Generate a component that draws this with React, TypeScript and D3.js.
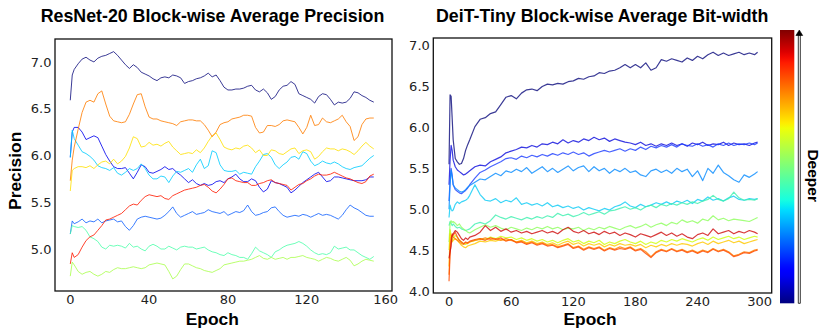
import React from "react";
import * as d3 from "d3";

// ---------------- ResNet-20 (left) ----------------
const LEFT_EPOCHS = [0,1,2,4,6,8,10,12,14,16,18,20,22,24,26,28,30,32,34,36,38,40,42,44,46,48,50,52,54,56,58,60,62,64,66,68,70,72,74,76,78,80,82,84,86,88,90,92,94,96,98,100,102,104,106,108,110,112,114,116,118,120,122,124,126,128,130,132,134,136,138,140,142,144,146,148,150,152,154];

const RESNET_B1 = [6.59,6.86,6.92,6.98,7.03,7.05,7.02,7.00,7.04,7.06,7.07,7.09,7.11,7.07,7.02,6.97,6.93,6.97,6.94,6.89,6.87,6.85,6.82,6.80,6.83,6.84,6.83,6.86,6.85,6.83,6.77,6.79,6.80,6.82,6.83,6.85,6.88,6.84,6.86,6.80,6.73,6.70,6.70,6.71,6.71,6.72,6.74,6.75,6.70,6.68,6.71,6.67,6.60,6.63,6.70,6.74,6.75,6.79,6.76,6.66,6.64,6.62,6.60,6.56,6.63,6.66,6.65,6.60,6.54,6.57,6.56,6.57,6.61,6.68,6.67,6.64,6.62,6.59,6.57];
const RESNET_B2 = [5.98,6.25,6.30,6.30,6.25,6.17,6.19,6.21,6.19,6.10,6.01,5.94,5.88,5.86,5.86,5.87,5.81,5.75,5.82,5.90,5.88,5.82,5.81,5.83,5.85,5.88,5.85,5.86,5.82,5.79,5.75,5.71,5.74,5.70,5.68,5.70,5.68,5.69,5.72,5.73,5.71,5.75,5.77,5.80,5.75,5.72,5.72,5.75,5.73,5.66,5.61,5.64,5.73,5.71,5.70,5.68,5.66,5.60,5.63,5.67,5.71,5.74,5.77,5.80,5.82,5.77,5.72,5.73,5.77,5.77,5.76,5.75,5.74,5.73,5.73,5.73,5.74,5.77,5.77];
const RESNET_B3 = [5.16,5.30,5.27,5.29,5.32,5.28,5.30,5.29,5.32,5.28,5.30,5.31,5.32,5.29,5.30,5.24,5.20,5.25,5.32,5.34,5.35,5.34,5.33,5.32,5.33,5.36,5.40,5.45,5.38,5.34,5.36,5.38,5.40,5.37,5.38,5.39,5.42,5.40,5.39,5.38,5.40,5.36,5.38,5.40,5.39,5.41,5.47,5.40,5.36,5.37,5.39,5.40,5.44,5.45,5.40,5.36,5.34,5.35,5.36,5.35,5.37,5.36,5.34,5.36,5.38,5.36,5.37,5.36,5.34,5.32,5.36,5.42,5.47,5.44,5.42,5.39,5.36,5.35,5.35];
const RESNET_B4 = [5.98,6.27,6.18,6.11,6.04,6.02,5.99,5.95,5.89,5.87,5.86,5.84,5.87,5.81,5.79,5.82,5.86,5.84,5.86,5.91,5.86,5.79,5.75,5.75,5.78,5.77,5.71,5.78,5.83,5.82,5.84,5.86,5.82,5.90,5.96,5.86,5.89,6.05,6.03,5.90,5.84,5.83,5.83,5.84,5.80,5.82,5.81,5.80,5.88,5.94,6.01,6.02,5.98,5.90,5.86,5.90,5.93,5.98,5.99,5.96,6.04,6.02,5.94,5.89,5.91,5.94,5.92,5.91,5.93,5.91,5.88,5.86,5.85,5.87,5.88,5.89,5.93,5.97,6.00];
const RESNET_B5 = [5.16,5.25,5.24,5.23,5.24,5.20,5.13,5.11,5.08,5.02,5.00,5.04,5.03,5.04,5.03,5.01,5.06,5.02,5.03,5.00,4.98,5.03,5.05,5.03,5.00,5.00,5.03,5.01,4.99,5.02,5.03,5.02,5.02,5.00,5.01,5.02,4.99,4.97,4.96,4.94,4.93,4.96,4.94,4.93,4.91,4.91,4.89,4.95,5.02,4.98,4.96,4.94,4.91,4.97,4.99,5.02,5.04,5.05,5.06,5.08,5.06,5.03,4.99,4.96,4.94,4.95,4.94,4.96,5.03,5.00,5.01,5.02,4.99,4.99,4.96,4.93,4.91,4.89,4.92];
const RESNET_B6 = [4.71,4.86,4.83,4.76,4.73,4.75,4.76,4.73,4.71,4.73,4.76,4.75,4.78,4.80,4.79,4.79,4.80,4.81,4.80,4.79,4.80,4.83,4.84,4.85,4.84,4.83,4.76,4.68,4.71,4.78,4.84,4.84,4.82,4.80,4.79,4.77,4.76,4.75,4.77,4.79,4.83,4.84,4.85,4.86,4.87,4.87,4.88,4.89,4.91,4.93,4.90,4.89,4.91,4.89,4.90,4.91,4.89,4.91,4.91,4.92,4.93,4.91,4.90,4.89,4.87,4.89,4.91,4.90,4.88,4.87,4.89,4.91,4.88,4.82,4.84,4.87,4.89,4.88,4.87];
const RESNET_B7 = [5.62,5.84,5.86,5.88,5.88,5.87,5.89,5.86,5.90,5.93,5.94,5.91,5.96,5.91,5.94,5.99,6.08,6.20,6.18,6.09,6.10,6.14,6.11,6.12,6.10,6.13,6.15,6.09,6.05,6.01,6.02,6.03,6.02,6.06,6.03,6.08,6.15,6.21,6.24,6.17,6.09,6.07,6.06,6.08,6.07,6.10,6.11,6.08,6.03,6.06,6.00,6.00,6.06,6.05,6.02,6.01,6.04,6.07,6.08,6.02,6.05,6.06,6.04,5.96,5.99,6.04,6.08,6.07,6.07,6.05,6.07,6.06,6.04,6.01,6.05,6.10,6.14,6.10,6.07];
const RESNET_B8 = [5.73,5.95,6.09,6.28,6.46,6.57,6.59,6.57,6.66,6.69,6.55,6.42,6.37,6.36,6.35,6.36,6.44,6.55,6.65,6.66,6.52,6.41,6.39,6.39,6.37,6.36,6.35,6.34,6.32,6.36,6.37,6.38,6.38,6.37,6.37,6.33,6.27,6.20,6.25,6.33,6.35,6.36,6.39,6.40,6.41,6.43,6.43,6.42,6.30,6.24,6.25,6.32,6.32,6.31,6.33,6.37,6.38,6.37,6.36,6.30,6.23,6.30,6.43,6.32,6.33,6.40,6.36,6.35,6.37,6.39,6.43,6.36,6.31,6.16,6.20,6.33,6.39,6.40,6.40];
const RESNET_B9 = [4.84,4.96,4.91,4.94,5.02,5.09,5.13,5.15,5.20,5.25,5.31,5.32,5.34,5.36,5.38,5.42,5.46,5.48,5.47,5.52,5.56,5.58,5.57,5.56,5.57,5.54,5.53,5.57,5.59,5.61,5.63,5.64,5.65,5.66,5.68,5.69,5.66,5.62,5.60,5.64,5.69,5.75,5.76,5.73,5.72,5.71,5.71,5.68,5.68,5.70,5.71,5.73,5.74,5.71,5.70,5.69,5.68,5.63,5.66,5.69,5.70,5.73,5.75,5.78,5.80,5.79,5.79,5.80,5.82,5.80,5.78,5.76,5.75,5.73,5.71,5.70,5.72,5.78,5.80];

const RESNET_SERIES = [RESNET_B1, RESNET_B2, RESNET_B3, RESNET_B4, RESNET_B5, RESNET_B6, RESNET_B7, RESNET_B8, RESNET_B9];
const RESNET_COLORS = ["#10107f", "#0000ee", "#1060ff", "#00ccff", "#4dffa9", "#a9ff4d", "#ffe000", "#ff7d00", "#ff1a00"];

const LEFT_X_TICKS = [0, 40, 80, 120, 160];
const LEFT_Y_TICKS = [5.0, 5.5, 6.0, 6.5, 7.0];

// ---------------- DeiT-Tiny (right) ----------------
const DEIT_EPOCHS = [0,1,2,3,4,6,8,10,12,14,16,18,20,25,30,35,40,45,50,55,60,65,70,75,80,85,90,95,100,105,110,115,120,125,130,135,140,145,150,155,160,165,170,175,180,185,190,195,200,205,210,215,220,225,230,235,240,245,250,255,260,265,270,275,280,285,290,295,298];

const DEIT_B1 = [5.55,6.40,6.38,6.12,5.85,5.62,5.58,5.55,5.56,5.62,5.72,5.79,5.85,6.01,6.10,6.12,6.17,6.19,6.28,6.37,6.39,6.35,6.42,6.46,6.47,6.45,6.50,6.53,6.52,6.54,6.53,6.56,6.57,6.60,6.59,6.62,6.63,6.67,6.66,6.69,6.70,6.73,6.77,6.73,6.77,6.73,6.79,6.70,6.73,6.83,6.81,6.84,6.82,6.80,6.85,6.82,6.87,6.84,6.89,6.92,6.88,6.91,6.88,6.90,6.92,6.89,6.91,6.89,6.92];
const DEIT_B2 = [5.30,5.60,5.78,5.72,5.60,5.52,5.48,5.46,5.44,5.42,5.43,5.45,5.47,5.52,5.54,5.53,5.58,5.61,5.64,5.69,5.71,5.73,5.76,5.75,5.78,5.76,5.80,5.79,5.82,5.80,5.85,5.81,5.84,5.82,5.86,5.84,5.88,5.85,5.87,5.83,5.86,5.84,5.82,5.81,5.79,5.82,5.78,5.80,5.77,5.80,5.78,5.81,5.78,5.80,5.77,5.81,5.79,5.82,5.78,5.80,5.79,5.82,5.78,5.81,5.79,5.80,5.78,5.81,5.82];
const DEIT_B3 = [5.10,5.35,5.50,5.42,5.30,5.24,5.22,5.20,5.19,5.21,5.23,5.26,5.30,5.38,5.45,5.48,5.52,5.55,5.58,5.62,5.63,5.61,5.65,5.63,5.66,5.64,5.67,5.65,5.68,5.66,5.69,5.67,5.70,5.67,5.69,5.65,5.68,5.70,5.72,5.70,5.72,5.74,5.71,5.74,5.72,5.76,5.73,5.77,5.75,5.78,5.76,5.79,5.76,5.80,5.78,5.77,5.80,5.77,5.79,5.76,5.80,5.78,5.81,5.78,5.80,5.79,5.81,5.79,5.81];
const DEIT_B4 = [5.00,5.30,5.48,5.40,5.30,5.26,5.24,5.22,5.21,5.22,5.24,5.27,5.29,5.33,5.37,5.36,5.40,5.44,5.41,5.47,5.45,5.49,5.46,5.51,5.44,5.48,5.52,5.46,5.50,5.45,5.49,5.53,5.47,5.51,5.53,5.46,5.52,5.47,5.50,5.44,5.49,5.46,5.50,5.45,5.47,5.42,5.40,5.47,5.49,5.45,5.48,5.44,5.50,5.46,5.49,5.40,5.47,5.35,5.50,5.44,5.54,5.45,5.41,5.36,5.33,5.42,5.39,5.43,5.46];
const DEIT_B5 = [4.90,5.05,5.00,4.98,4.99,5.06,5.09,5.07,5.09,5.10,5.11,5.13,5.17,5.30,5.18,5.11,5.10,5.13,5.08,5.11,5.09,5.14,5.06,5.08,5.05,5.07,5.04,5.08,5.03,5.05,5.02,5.04,5.01,5.03,4.99,5.02,5.00,4.98,5.01,4.99,5.03,5.05,5.09,5.04,5.02,5.06,5.03,5.05,5.08,5.06,5.09,5.06,5.10,5.08,5.11,5.07,5.12,5.10,5.15,5.11,5.13,5.10,5.14,5.16,5.12,5.11,5.13,5.12,5.13];
const DEIT_B6 = [4.80,4.85,4.83,4.80,4.82,4.79,4.77,4.78,4.76,4.75,4.74,4.75,4.76,4.82,4.84,4.82,4.86,4.93,4.90,4.88,4.91,4.89,4.87,4.90,4.88,4.91,4.89,4.92,4.90,4.95,4.92,4.94,4.91,4.93,4.96,4.93,4.95,4.97,4.94,4.98,4.99,5.01,5.03,5.00,5.02,4.99,5.03,5.05,5.02,5.06,5.04,5.07,5.05,5.08,5.06,5.09,5.07,5.10,5.12,5.17,5.12,5.10,5.13,5.21,5.14,5.11,5.12,5.11,5.13];
const DEIT_B7 = [4.60,4.82,4.86,4.84,4.85,4.83,4.80,4.82,4.78,4.76,4.74,4.72,4.71,4.75,4.78,4.81,4.78,4.80,4.77,4.75,4.78,4.76,4.74,4.77,4.75,4.78,4.76,4.79,4.76,4.78,4.75,4.77,4.76,4.78,4.74,4.77,4.75,4.78,4.76,4.79,4.77,4.75,4.78,4.80,4.77,4.79,4.82,4.78,4.81,4.83,4.80,4.84,4.82,4.87,4.84,4.86,4.83,4.88,4.86,4.92,4.87,4.89,4.86,4.88,4.87,4.86,4.85,4.88,4.90];
const DEIT_B8 = [4.50,4.75,4.68,4.62,4.65,4.68,4.66,4.62,4.60,4.58,4.57,4.59,4.60,4.62,4.64,4.63,4.66,4.64,4.67,4.65,4.66,4.63,4.65,4.62,4.64,4.61,4.63,4.60,4.62,4.59,4.62,4.64,4.60,4.62,4.58,4.61,4.59,4.62,4.57,4.60,4.58,4.61,4.63,4.60,4.58,4.61,4.57,4.60,4.58,4.62,4.60,4.63,4.61,4.64,4.62,4.60,4.63,4.65,4.62,4.66,4.63,4.65,4.67,4.64,4.66,4.63,4.65,4.67,4.66];
const DEIT_B9 = [4.30,4.70,4.66,4.60,4.62,4.64,4.62,4.59,4.56,4.54,4.53,4.55,4.56,4.58,4.61,4.60,4.62,4.61,4.63,4.62,4.63,4.60,4.62,4.59,4.61,4.58,4.60,4.57,4.59,4.56,4.59,4.61,4.57,4.59,4.55,4.58,4.56,4.58,4.54,4.57,4.55,4.58,4.56,4.57,4.55,4.57,4.53,4.56,4.54,4.57,4.55,4.58,4.56,4.58,4.57,4.55,4.58,4.60,4.57,4.61,4.58,4.60,4.62,4.59,4.61,4.58,4.60,4.62,4.63];
const DEIT_B10 = [4.20,4.55,4.65,4.68,4.66,4.64,4.62,4.60,4.58,4.57,4.59,4.58,4.60,4.62,4.63,4.65,4.63,4.64,4.62,4.64,4.62,4.60,4.61,4.58,4.60,4.57,4.59,4.56,4.57,4.54,4.56,4.58,4.53,4.55,4.51,4.54,4.52,4.54,4.50,4.53,4.51,4.54,4.52,4.54,4.50,4.52,4.48,4.42,4.48,4.51,4.49,4.52,4.49,4.51,4.48,4.50,4.47,4.50,4.48,4.52,4.49,4.51,4.48,4.43,4.45,4.48,4.47,4.50,4.51];
const DEIT_B11 = [4.12,4.45,4.62,4.70,4.68,4.72,4.66,4.62,4.60,4.58,4.60,4.59,4.61,4.63,4.64,4.62,4.65,4.63,4.65,4.61,4.63,4.59,4.60,4.57,4.59,4.56,4.58,4.55,4.56,4.53,4.55,4.57,4.52,4.54,4.50,4.53,4.51,4.53,4.49,4.52,4.50,4.52,4.51,4.53,4.49,4.51,4.46,4.41,4.47,4.50,4.48,4.51,4.48,4.50,4.47,4.49,4.46,4.49,4.47,4.51,4.48,4.50,4.47,4.42,4.44,4.47,4.46,4.49,4.50];
const DEIT_B12 = [4.40,4.48,4.55,4.68,4.70,4.74,4.72,4.68,4.64,4.62,4.65,4.63,4.66,4.68,4.72,4.80,4.74,4.78,4.73,4.76,4.72,4.74,4.71,4.73,4.70,4.72,4.74,4.71,4.73,4.70,4.75,4.78,4.73,4.71,4.74,4.70,4.72,4.69,4.73,4.70,4.72,4.68,4.71,4.69,4.66,4.70,4.68,4.66,4.69,4.72,4.68,4.71,4.67,4.70,4.66,4.64,4.69,4.71,4.68,4.76,4.70,4.72,4.74,4.70,4.73,4.71,4.74,4.72,4.70];

const DEIT_SERIES = [DEIT_B1, DEIT_B2, DEIT_B3, DEIT_B4, DEIT_B5, DEIT_B6, DEIT_B7, DEIT_B8, DEIT_B9, DEIT_B10, DEIT_B11, DEIT_B12];
const DEIT_COLORS = ["#10107f", "#1010dd", "#2040ff", "#0a8cff", "#10ccf5", "#40f0b0", "#90ff60", "#d0ff10", "#ffc800", "#ff8000", "#ff4a00", "#d01010"];

const RIGHT_X_TICKS = [0, 60, 120, 180, 240, 300];
const RIGHT_Y_TICKS = [4.0, 4.5, 5.0, 5.5, 6.0, 6.5, 7.0];

// matplotlib "jet" colormap
function jet(t: number): string {
  const interp = (pts: number[][]) => {
    for (let i = 0; i < pts.length - 1; i++) {
      const [x0, y0] = pts[i];
      const [x1, y1] = pts[i + 1];
      if (t >= x0 && t <= x1) return y0 + ((t - x0) / (x1 - x0)) * (y1 - y0);
    }
    return pts[pts.length - 1][1];
  };
  const r = interp([[0, 0], [0.35, 0], [0.66, 1], [0.89, 1], [1, 0.5]]);
  const g = interp([[0, 0], [0.125, 0], [0.375, 1], [0.64, 1], [0.91, 0], [1, 0]]);
  const b = interp([[0, 0.5], [0.11, 1], [0.34, 1], [0.65, 0], [1, 0]]);
  return d3.rgb(r * 255, g * 255, b * 255).formatHex();
}

const TICK_FONT = "'DejaVu Sans', sans-serif";
const BOLD_FONT = "'Liberation Sans', Arial, sans-serif";

function Panel(props: {
  title: string; titleX: number; labelX: number;
  x: d3.ScaleLinear<number, number>; y: d3.ScaleLinear<number, number>;
  epochs: number[]; series: number[][]; colors: string[];
  xTicks: number[]; yTicks: number[]; lineWidth: number; ylabel?: string;
}) {
  const { x, y } = props;
  const [x0, x1] = x.range();
  const [y0, y1] = y.range(); // y0 bottom, y1 top
  return (
    <g>
      <text x={props.titleX} y={21.7} textAnchor="middle" fontFamily={BOLD_FONT} fontWeight="bold" fontSize={17.8} fill="#000">{props.title}</text>
      <g>
        {props.series.map((s, k) => {
          const n = Math.min(s.length, props.epochs.length);
          const pts: [number, number][] = [];
          for (let i = 0; i < n; i++) pts.push([props.epochs[i], s[i]]);
          const line = d3.line<[number, number]>().x(d => x(d[0])).y(d => y(d[1]));
          return <path key={k} d={line(pts) || ""} fill="none" stroke={props.colors[k]} strokeWidth={props.lineWidth} strokeOpacity={0.82} strokeLinejoin="round" />;
        })}
      </g>
      <rect x={x0} y={y1} width={x1 - x0} height={y0 - y1} fill="none" stroke="#111" strokeWidth={1.3} />
      {props.yTicks.map(t => (
        <text key={"y" + t} x={x0 - 3.5} y={y(t)} dy="0.36em" textAnchor="end" fontFamily={TICK_FONT} fontSize={13} fill="#222">{t.toFixed(1)}</text>
      ))}
      {props.xTicks.map(t => (
        <text key={"x" + t} x={x(t)} y={y0 + 13.2} textAnchor="middle" fontFamily={TICK_FONT} fontSize={13} fill="#222">{t}</text>
      ))}
      <text x={props.labelX} y={325} textAnchor="middle" fontFamily={BOLD_FONT} fontWeight="bold" fontSize={17.4} fill="#000">Epoch</text>
      {props.ylabel && (
        <text transform="translate(20.5,170.8) rotate(-90)" textAnchor="middle" fontFamily={BOLD_FONT} fontWeight="bold" fontSize={17.4} fill="#000">{props.ylabel}</text>
      )}
    </g>
  );
}

export default function App() {
  const xL = d3.scaleLinear().domain([-7.75, 163.25]).range([55, 392]);
  const yL = d3.scaleLinear().domain([4.551, 7.245]).range([291, 39]);
  const xR = d3.scaleLinear().domain([-15.2, 311.6]).range([433.3, 771.7]);
  const yR = d3.scaleLinear().domain([3.976, 7.094]).range([293, 38]);

  const stops = d3.range(0, 1.0001, 0.02);
  const cbX = 780, cbW = 14.3, cbTop = 30, cbBot = 303.3;
  const ax = 799.3;

  return (
    <svg width={830} height={333} style={{ position: "absolute", left: 0, top: 0, background: "#fff" }}>
      <defs>
        <linearGradient id="jetGrad" x1="0" y1="1" x2="0" y2="0">
          {stops.map(t => <stop key={t} offset={t} stopColor={jet(Math.min(1, t))} />)}
        </linearGradient>
      </defs>
      <rect x={0} y={0} width={830} height={333} fill="#fff" />
      <Panel title="ResNet-20 Block-wise Average Precision" titleX={212.5} labelX={212.3}
        x={xL} y={yL} epochs={LEFT_EPOCHS} series={RESNET_SERIES} colors={RESNET_COLORS}
        xTicks={LEFT_X_TICKS} yTicks={LEFT_Y_TICKS} lineWidth={1} ylabel="Precision" />
      <Panel title="DeiT-Tiny Block-wise Average Bit-width" titleX={602.2} labelX={590}
        x={xR} y={yR} epochs={DEIT_EPOCHS} series={DEIT_SERIES} colors={DEIT_COLORS}
        xTicks={RIGHT_X_TICKS} yTicks={RIGHT_Y_TICKS} lineWidth={1.2} />
      <rect x={cbX} y={cbTop} width={cbW} height={cbBot - cbTop} fill="url(#jetGrad)" />
      <path d={`M${ax - 1} ${cbBot} L${ax - 1} ${cbTop + 5} L${ax + 1} ${cbTop + 5} L${ax + 1} ${cbBot} Z`} fill="#fff" stroke="#000" strokeWidth={0.8} />
      <path d={`M${ax - 3.4} ${cbTop + 5.5} L${ax} ${cbTop} L${ax + 3.4} ${cbTop + 5.5} Z`} fill="#000" stroke="#000" strokeWidth={0.6} />
      <text transform="translate(807.5,175.7) rotate(90)" textAnchor="middle" fontFamily={BOLD_FONT} fontWeight="bold" fontSize={15.5} fill="#000">Deeper</text>
    </svg>
  );
}
